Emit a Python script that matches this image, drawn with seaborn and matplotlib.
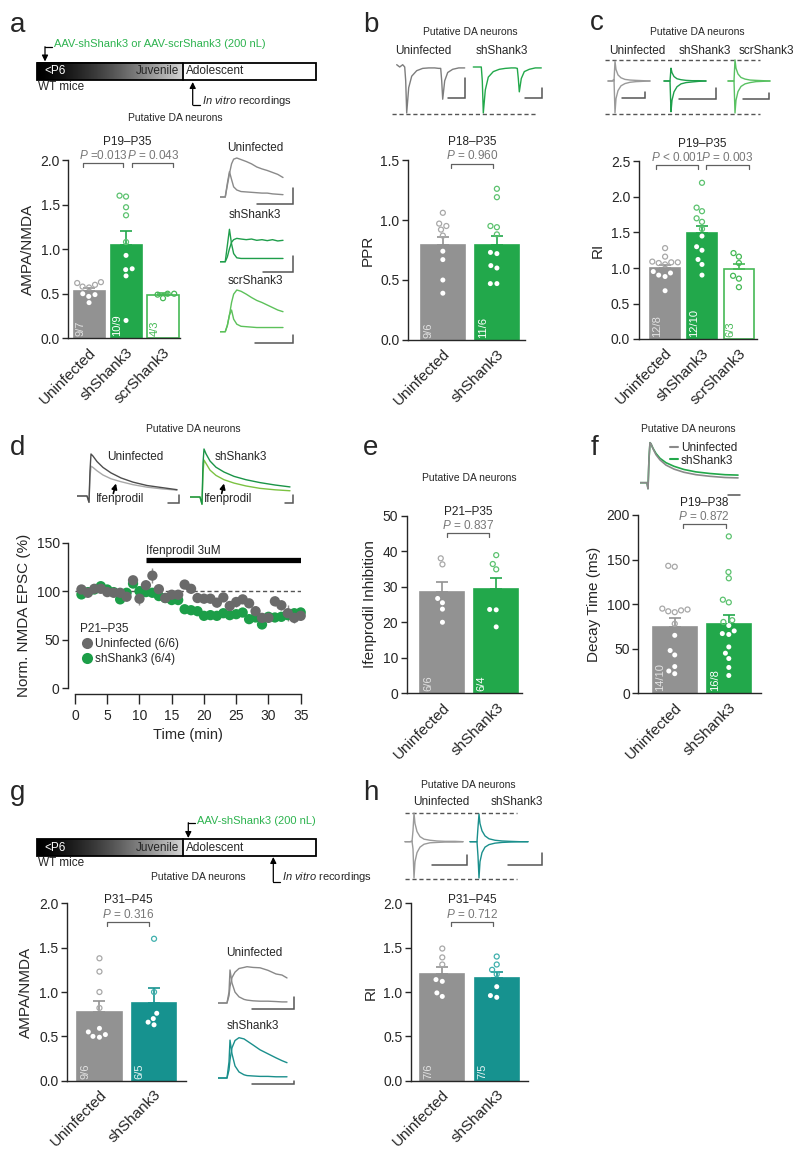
import numpy as np
import pandas as pd
import matplotlib
matplotlib.use("Agg")
import matplotlib.pyplot as plt
from matplotlib.patches import Rectangle
from matplotlib.lines import Line2D
import seaborn as sns

# =========================
# DATA
# =========================

# panel a : AMPA/NMDA, P19-P35
a_groups = ["Uninfected", "shShank3", "scrShank3"]
a_means = [0.53, 1.05, 0.49]
a_sems = [0.03, 0.15, 0.02]
a_uninf = [0.62, 0.58, 0.57, 0.60, 0.63, 0.50, 0.49, 0.47, 0.40]
a_sh = [1.60, 1.59, 1.47, 1.38, 1.08, 0.93, 0.78, 0.77, 0.70, 0.20]
a_scr = [0.50, 0.49, 0.50, 0.45]
a_n = ["9/7", "10/9", "4/3"]

# panel b : PPR, P18-P35
b_groups = ["Uninfected", "shShank3"]
b_means = [0.79, 0.79]
b_sems = [0.07, 0.08]
b_uninf = [1.06, 0.97, 0.95, 0.92, 0.87, 0.74, 0.67, 0.50, 0.39]
b_sh = [1.26, 1.19, 0.95, 0.94, 0.88, 0.73, 0.72, 0.62, 0.60, 0.47, 0.47]
b_n = ["9/6", "11/6"]

# panel c : RI, P19-P35
c_groups = ["Uninfected", "shShank3", "scrShank3"]
c_means = [1.00, 1.49, 0.99]
c_sems = [0.04, 0.10, 0.07]
c_uninf = [1.28, 1.16, 1.09, 1.08, 1.05, 1.07, 1.08, 0.95, 0.93, 0.88, 0.90, 0.68]
c_sh = [2.20, 1.85, 1.80, 1.70, 1.65, 1.55, 1.45, 1.30, 1.25, 1.12, 1.05, 0.90]
c_scr = [1.21, 1.16, 1.07, 0.89, 0.85, 0.73]
c_n = ["12/8", "12/10", "6/3"]

# panel d : normalised NMDA EPSC over time, P21-P35
d_time = list(range(1, 36))
d_uninf = [101.7, 98.3, 102.4, 102.4, 99.0, 98.3, 98.3, 94.2, 111.2, 92.2,
           106.1, 116.0, 102.0, 92.9, 96.3, 96.3, 106.8, 102.4, 92.9, 92.2,
           92.2, 88.1, 93.5, 84.7, 88.8, 91.5, 87.4, 79.3, 72.4, 72.4,
           89.5, 85.4, 77.2, 72.4, 74.5]
d_uninf_sem = [3, 3, 3, 3, 3, 3, 3, 3, 4, 6, 5, 8, 4, 3, 4, 5, 5, 4, 4, 4,
               4, 4, 4, 5, 5, 4, 4, 5, 5, 4, 5, 5, 8, 5, 4]
d_sh = [96.6, 99.0, 101.7, 105.1, 101.7, 99.0, 91.5, 98.3, 107.8, 100.0,
        99.0, 98.3, 94.9, 92.9, 90.8, 90.8, 81.3, 80.3, 79.3, 74.5,
        75.2, 74.5, 77.2, 75.2, 76.2, 77.9, 71.1, 72.8, 65.6, 73.5,
        72.8, 73.5, 75.2, 77.2, 78.0]
d_sh_sem = [3, 3, 3, 3, 3, 3, 3, 3, 3, 3, 4, 3, 3, 3, 3, 3, 4, 3, 3, 3,
            3, 3, 3, 3, 3, 3, 3, 3, 3, 3, 3, 3, 3, 3, 3]
d_ifen_start, d_ifen_end = 11, 35

# panel e : Ifenprodil inhibition, P21-P35
e_groups = ["Uninfected", "shShank3"]
e_means = [28.5, 29.4]
e_sems = [2.8, 3.2]
e_uninf = [38.0, 36.3, 26.7, 25.5, 23.7, 20.0]
e_sh = [38.9, 36.4, 34.9, 23.6, 23.5, 18.7]
e_n = ["6/6", "6/4"]

# panel f : decay time, P19-P38
f_groups = ["Uninfected", "shShank3"]
f_means = [74.7, 77.7]
f_sems = [10.1, 10.1]
f_uninf = [143, 142, 95, 94, 93, 92, 91, 78, 65, 48, 43, 30, 25, 22]
f_sh = [176, 136, 129, 105, 102, 82, 80, 76, 70, 67, 66, 52, 45, 39, 29, 20]
f_n = ["14/10", "16/8"]

# panel g : AMPA/NMDA, P31-P45
g_groups = ["Uninfected", "shShank3"]
g_means = [0.78, 0.88]
g_sems = [0.12, 0.16]
g_uninf = [1.38, 1.23, 1.00, 0.82, 0.59, 0.55, 0.52, 0.50, 0.49]
g_sh = [1.60, 1.00, 0.76, 0.70, 0.66, 0.63]
g_n = ["9/6", "6/5"]

# panel h : RI, P31-P45
h_groups = ["Uninfected", "shShank3"]
h_means = [1.20, 1.16]
h_sems = [0.08, 0.07]
h_uninf = [1.49, 1.39, 1.31, 1.14, 1.12, 0.99, 0.95]
h_sh = [1.40, 1.31, 1.25, 1.20, 1.06, 0.96, 0.94]
h_n = ["7/6", "7/5"]

# example traces (normalised amplitude)
t_a = [0, 5, 7, 9, 11, 13, 16, 20, 25, 30, 35, 40, 45, 50, 55, 60]
a_tr_uninf_slow = [0, 0, 0.3, 0.6, 0.85, 0.97, 1.0, 0.96, 0.91, 0.85, 0.77, 0.72, 0.68, 0.63, 0.58, 0.5]
a_tr_uninf_fast = [0, 0, 0.35, 0.65, 0.45, 0.26, 0.18, 0.14, 0.13, 0.12, 0.11, 0.1, 0.1, 0.08, 0.07, 0.06]
a_tr_sh_slow = [0, 0, 0.15, 0.4, 0.6, 0.68, 0.72, 0.7, 0.68, 0.7, 0.66, 0.68, 0.65, 0.68, 0.64, 0.66]
a_tr_sh_fast = [0, 0, 0.5, 1.0, 0.55, 0.25, 0.12, 0.1, 0.1, 0.1, 0.1, 0.1, 0.1, 0.1, 0.1, 0.1]
a_tr_scr_slow = [0, 0, 0.15, 0.4, 0.7, 0.9, 1.0, 0.97, 0.9, 0.82, 0.75, 0.7, 0.64, 0.58, 0.52, 0.48]
a_tr_scr_fast = [0, 0, 0.15, 0.4, 0.52, 0.3, 0.18, 0.13, 0.12, 0.11, 0.1, 0.1, 0.1, 0.1, 0.1, 0.1]

t_b = [0, 3, 6, 8, 9, 10, 12, 15, 20, 26, 32, 38, 42, 44, 45, 46, 48, 51, 56, 62, 68]
b_tr_uninf = [0.05, 0.0, 0.05, 0.0, -0.3, -1.0, -0.45, -0.2, -0.08, -0.03, -0.02, -0.02,
              -0.03, -0.03, -0.3, -0.7, -0.3, -0.12, -0.05, -0.02, -0.02]
b_tr_sh = [0.0, 0.0, 0.0, 0.0, -0.3, -1.0, -0.5, -0.22, -0.1, -0.05, -0.03, -0.02,
           -0.02, -0.03, -0.25, -0.54, -0.25, -0.1, -0.05, -0.02, -0.02]

t_c = [0, 4, 6, 7, 8, 10, 13, 17, 22, 28, 35, 42]
c_tr_uninf_neg = [0, 0, 0.05, -1.0, -0.55, -0.3, -0.15, -0.08, -0.04, -0.02, -0.01, 0]
c_tr_uninf_pos = [0, 0, 0, 0.62, 0.36, 0.19, 0.1, 0.05, 0.03, 0.02, 0.01, 0]
c_tr_sh_neg = [0, 0, 0, -0.96, -0.6, -0.34, -0.18, -0.09, -0.05, -0.03, -0.01, 0]
c_tr_sh_pos = [0, 0, 0, 0.4, 0.26, 0.14, 0.07, 0.04, 0.02, 0.01, 0.01, 0]
c_tr_scr_neg = [0, 0, 0, -1.0, -0.6, -0.33, -0.17, -0.09, -0.05, -0.02, -0.01, 0]
c_tr_scr_pos = [0, 0, 0, 0.66, 0.4, 0.22, 0.11, 0.06, 0.03, 0.02, 0.01, 0]

t_d = [0, 10, 12, 13, 14, 16, 20, 26, 34, 44, 56, 70, 85, 100]
d_tr_uninf_ctrl = [0, 0, -0.15, 0.6, 1.0, 0.95, 0.82, 0.68, 0.55, 0.43, 0.33, 0.25, 0.2, 0.15]
d_tr_uninf_ifen = [0, 0, -0.15, 0.45, 0.71, 0.68, 0.6, 0.5, 0.41, 0.34, 0.27, 0.21, 0.17, 0.14]
d_tr_sh_ctrl = [0, 0, -0.15, 0.7, 1.0, 0.9, 0.75, 0.62, 0.52, 0.43, 0.36, 0.3, 0.25, 0.21]
d_tr_sh_ifen = [0, 0, -0.15, 0.5, 0.77, 0.7, 0.56, 0.45, 0.36, 0.29, 0.23, 0.18, 0.15, 0.13]

t_f = [0, 7, 8, 9, 10, 11, 13, 16, 20, 26, 34, 44, 56, 70, 85, 98]
f_tr_uninf = [0, 0, -0.15, 0.6, 1.0, 0.97, 0.85, 0.7, 0.57, 0.44, 0.34, 0.26, 0.2, 0.16, 0.13, 0.12]
f_tr_sh = [0, 0, -0.15, 0.6, 1.0, 0.97, 0.86, 0.73, 0.61, 0.5, 0.41, 0.33, 0.27, 0.23, 0.2, 0.19]

t_g = [0, 6, 9, 11, 12, 14, 17, 21, 26, 29, 35, 42, 50, 58, 64, 69]
g_tr_uninf_slow = [0, 0, 0, 0.2, 0.45, 0.7, 0.85, 0.95, 0.98, 1.0, 0.98, 0.97, 0.9, 0.8, 0.77, 0.69]
g_tr_uninf_fast = [0, 0, 0, 0.3, 0.91, 0.55, 0.3, 0.17, 0.1, 0.08, 0.06, 0.05, 0.05, 0.04, 0.03, 0.03]
g_tr_sh_slow = [0, 0, 0, 0.2, 0.45, 0.75, 0.93, 1.0, 0.97, 0.92, 0.82, 0.7, 0.6, 0.5, 0.43, 0.38]
g_tr_sh_fast = [0, 0, 0, 0.4, 0.94, 0.6, 0.3, 0.15, 0.08, 0.06, 0.05, 0.04, 0.04, 0.03, 0.03, 0.03]

t_h = [0, 5, 7, 8, 9, 10, 12, 15, 19, 25, 32, 40, 50, 58]
h_tr_uninf_neg = [0, 0, 0.02, -0.2, -1.0, -0.55, -0.3, -0.15, -0.07, -0.03, -0.02, -0.01, -0.01, 0]
h_tr_uninf_pos = [0, 0, 0, 0.3, 0.79, 0.5, 0.28, 0.14, 0.07, 0.04, 0.02, 0.01, 0.01, 0]
h_tr_sh_neg = [0, 0, 0, -0.4, -1.0, -0.55, -0.3, -0.15, -0.08, -0.04, -0.02, -0.01, 0, 0]
h_tr_sh_pos = [0, 0, 0, 0.4, 0.76, 0.5, 0.3, 0.16, 0.08, 0.04, 0.02, 0.01, 0, 0]

# =========================
# STYLE
# =========================

sns.set_theme(style="ticks")
plt.rcParams['font.family'] = ['Liberation Sans', 'DejaVu Sans']
plt.rcParams['mathtext.fontset'] = 'custom'
plt.rcParams['mathtext.rm'] = 'Liberation Sans'
plt.rcParams['mathtext.it'] = 'Liberation Sans:italic'
plt.rcParams['axes.linewidth'] = 1.0

GRAY = dict(face='#929292', edge='#929292', open='#a8a8a8', ntext='#e2e2e2', all_open=False)
GREEN = dict(face='#22a84b', edge='#22a84b', open='#5cc26f', ntext='white', all_open=False)
SCR = dict(face='white', edge='#45b955', open='#45b955', ntext='#45b955', all_open=True)
TEAL = dict(face='#16928f', edge='#16928f', open='#3fb0ad', ntext='#e6f4f4', all_open=False)

W, H = 800, 1151
fig = plt.figure(figsize=(8, 11.51), dpi=100)


def rect(x0, y0, x1, y1):
    return [x0 / W, 1 - y1 / H, (x1 - x0) / W, (y1 - y0) / H]


# overlay in pixel coordinates for labels, timelines, arrows
ov = fig.add_axes([0, 0, 1, 1])
ov.set_xlim(0, W)
ov.set_ylim(H, 0)
ov.axis('off')


def T(x, y, s, **kw):
    kw.setdefault('fontsize', 8)
    kw.setdefault('ha', 'center')
    kw.setdefault('va', 'center')
    ov.text(x, y, s, **kw)


# =========================
# HELPERS
# =========================

def bar_panel(box, xlim, bw, groups, means, sems, points, looks, ymax, ystep,
              ylabel, nlabels, fmt="{:.1f}"):
    ax = fig.add_axes(rect(*box))
    ax.patch.set_alpha(0)
    df = pd.DataFrame({'group': groups, 'mean': means})
    sns.barplot(data=df, x='group', y='mean', order=groups, ax=ax, width=bw,
                errorbar=None, color='white', saturation=1, zorder=1)
    for patch, lk in zip(ax.patches, looks):
        patch.set_facecolor(lk['face'])
        patch.set_edgecolor(lk['edge'])
        patch.set_linewidth(1.2)
    for i, (m, s, lk) in enumerate(zip(means, sems, looks)):
        ax.errorbar(i, m, yerr=[[0], [s]], color=lk['edge'], capsize=4,
                    capthick=1.2, lw=1.2, zorder=2)
    long = pd.DataFrame({
        'group': np.repeat(groups, [len(p) for p in points]),
        'value': np.concatenate(points),
    })
    n0 = len(ax.collections)
    sns.swarmplot(data=long, x='group', y='value', order=groups, ax=ax,
                  size=3.6, color='white', linewidth=0.9, zorder=3, warn_thresh=1)
    for coll in ax.collections[n0:]:
        offs = coll.get_offsets()
        if len(offs) == 0:
            continue
        gi = int(round(offs[0, 0]))
        lk = looks[gi]
        faces, edges = [], []
        for y in offs[:, 1]:
            if lk['all_open'] or y > means[gi]:
                faces.append((1, 1, 1, 0))
                edges.append(matplotlib.colors.to_rgba(lk['open']))
            else:
                faces.append((1, 1, 1, 1))
                edges.append((1, 1, 1, 0))
        coll.set_facecolor(faces)
        coll.set_edgecolor(edges)
    for i, (lab, lk) in enumerate(zip(nlabels, looks)):
        ax.text(i - bw / 2 + 0.05, ymax * 0.012, lab, rotation=90, ha='left',
                va='bottom', fontsize=8, color=lk['ntext'], zorder=4)
    ax.set_xlim(*xlim)
    ax.set_ylim(0, ymax)
    ticks = np.arange(0, ymax + ystep / 2, ystep)
    ax.set_yticks(ticks)
    ax.set_yticklabels([fmt.format(t) for t in ticks])
    ax.set_xticks(range(len(groups)))
    ax.set_xticklabels(groups, rotation=45, ha='right', rotation_mode='anchor',
                       fontsize=11)
    ax.set_xlabel('')
    ax.set_ylabel(ylabel, fontsize=11)
    ax.tick_params(axis='y', length=4, width=1, labelsize=10, pad=2)
    ax.tick_params(axis='x', length=0, pad=5)
    sns.despine(ax=ax)
    return ax


def bracket(ax, x1, x2, y, text, ymax):
    leg = ymax * 4 / 178
    ax.plot([x1, x1, x2, x2], [y - leg, y, y, y - leg], color='#606060', lw=0.9,
            clip_on=False)
    ax.annotate(text, xy=((x1 + x2) / 2, y), xytext=(0, 5.5),
                textcoords='offset points', ha='center', va='center',
                fontsize=8.5, color='#777777', annotation_clip=False)


def period(ax, x, y, text):
    ax.annotate(text, xy=(x, y), xytext=(0, 15.5), textcoords='offset points',
                ha='center', va='center', fontsize=8.5, color='#222222',
                annotation_clip=False)


def trace_ax(x0, x1, t1, base, unit, ylo, yhi):
    top = base - yhi * unit
    bottom = base - ylo * unit
    a = fig.add_axes(rect(x0, top, x1, bottom))
    a.set_xlim(0, t1)
    a.set_ylim(ylo, yhi)
    a.axis('off')
    return a


def scalebar(a, x_end, y_end, dx, dy, color='#555555'):
    a.plot([x_end - dx, x_end, x_end], [y_end, y_end, y_end + dy], color=color,
           lw=1.1, clip_on=False, solid_joinstyle='miter')


def timeline(y0, y1):
    grad = np.linspace(0, 1, 256)[None, :] ** 1.4
    ov.imshow(grad, extent=(36.7, 182.7, y1, y0), cmap='gray', vmin=0,
              vmax=1.2, aspect='auto', zorder=1)
    ov.add_patch(Rectangle((36.7, y0), 316 - 36.7, y1 - y0, fill=False,
                           lw=1.3, ec='black', zorder=2))
    ov.plot([182.7, 182.7], [y0, y1], color='black', lw=1.3, zorder=2)
    ym = (y0 + y1) / 2
    T(44, ym, "<P6", ha='left', color='white', fontsize=8.5, zorder=3)
    T(179, ym, "Juvenile", ha='right', fontsize=8.5, zorder=3)
    T(185.5, ym, "Adolescent", ha='left', fontsize=8.5, zorder=3)
    T(38.5, y1 + 7, "WT mice", ha='left', fontsize=8.5)


def arrow_down(x, ytop, ybot, hook):
    ov.plot([x, x + hook], [ytop, ytop], color='black', lw=0.9)
    ov.annotate('', xy=(x, ybot), xytext=(x, ytop),
                arrowprops=dict(arrowstyle='-|>', color='black', lw=0.9,
                                mutation_scale=9, shrinkA=0, shrinkB=0))


# =========================
# PANEL A
# =========================

timeline(62.7, 80)
arrow_down(45, 46.7, 61.5, 7)
T(54.3, 44.3, "AAV-shShank3 or AAV-scrShank3 (200 nL)", ha='left',
  color='#2db34f', fontsize=8)
arrow_down(192.7, 105, 82, 7)
ov.lines[-1].set_xdata([192.7, 199.7])
T(201.7, 101, r"$\it{In\ vitro}$ recordings", ha='left', fontsize=8)
T(175, 117.7, "Putative DA neurons", fontsize=7.5)

ax_a = bar_panel((68, 160, 180, 338.3), (-0.57, 2.46), 0.84, a_groups, a_means,
                 a_sems, [a_uninf, a_sh, a_scr], [GRAY, GREEN, SCR], 2.0, 0.5,
                 "AMPA/NMDA", a_n)
bracket(ax_a, -0.17, 0.93, 1.963, r"$\it{P}$ =0.013", 2.0)
bracket(ax_a, 1.17, 2.27, 1.963, r"$\it{P}$ = 0.043", 2.0)
period(ax_a, 1.02, 1.963, "P19\u2013P35")

tr = trace_ax(220, 295.6, 72, 197, 39, -0.25, 1.1)
tr.plot(t_a, a_tr_uninf_slow, color='#8a8a8a', lw=1)
tr.plot(t_a, a_tr_uninf_fast, color='#8a8a8a', lw=1)
scalebar(tr, 69.5, -0.18, 34.5, 0.41)
tr = trace_ax(220, 295.6, 72, 261.7, 32.4, -0.4, 1.1)
tr.plot(t_a, a_tr_sh_slow, color='#1f9e4b', lw=1)
tr.plot(t_a, a_tr_sh_fast, color='#1f9e4b', lw=1)
scalebar(tr, 69.5, -0.32, 28.5, 0.5)
tr = trace_ax(220, 295.6, 72, 331.7, 41.7, -0.35, 1.08)
tr.plot(t_a, a_tr_scr_slow, color='#5cc15a', lw=1)
tr.plot(t_a, a_tr_scr_fast, color='#5cc15a', lw=1)
scalebar(tr, 69.5, -0.27, 36.5, 0.19)
T(255, 148, "Uninfected", fontsize=8.5)
T(255, 215, "shShank3", fontsize=8.5)
T(255, 281, "scrShank3", fontsize=8.5)

# =========================
# PANEL B
# =========================

T(470, 31.7, "Putative DA neurons", fontsize=7.5)
T(423, 51, "Uninfected", fontsize=8.5)
T(502, 51, "shShank3", fontsize=8.5)
tr = trace_ax(390, 545, 155, 67, 46, -1.1, 0.3)
tr.plot(np.array(t_b) + 6.7, b_tr_uninf, color='#7d7d7d', lw=1)
tr.plot(np.array(t_b) + 83.3, b_tr_sh, color='#22a84a', lw=1)
tr.plot([2, 147], [-1.02, -1.02], ls=(0, (3, 2)), color='#555555', lw=1)
scalebar(tr, 75, -0.67, 17, 0.43)
scalebar(tr, 152, -0.67, 17, 0.21)

ax_b = bar_panel((407.7, 160, 525, 340), (-0.65, 1.52), 0.81, b_groups, b_means,
                 b_sems, [b_uninf, b_sh], [GRAY, GREEN], 1.5, 0.5, "PPR", b_n)
bracket(ax_b, 0.15, 0.92, 1.47, r"$\it{P}$ = 0.960", 1.5)
period(ax_b, 0.535, 1.47, "P18\u2013P35")

# =========================
# PANEL C
# =========================

T(697, 32.3, "Putative DA neurons", fontsize=7.5)
T(637, 51, "Uninfected", fontsize=8.5)
T(705, 51, "shShank3", fontsize=8.5)
T(766, 51, "scrShank3", fontsize=8.5)
tr = trace_ax(600, 775, 175, 81, 32, -1.1, 0.75)
tr.plot([5, 160], [0.66, 0.66], ls=(0, (3, 2)), color='#555555', lw=1)
tr.plot([5, 160], [-1.03, -1.03], ls=(0, (3, 2)), color='#555555', lw=1)
for off, neg, pos, col in [(8, c_tr_uninf_neg, c_tr_uninf_pos, '#9a9a9a'),
                           (64, c_tr_sh_neg, c_tr_sh_pos, '#1e9f4b'),
                           (128, c_tr_scr_neg, c_tr_scr_pos, '#59c162')]:
    tr.plot(np.array(t_c) + off, neg, color=col, lw=1)
    tr.plot(np.array(t_c) + off, pos, color=col, lw=1)
scalebar(tr, 45, -0.53, 23, 0.19)
scalebar(tr, 116, -0.56, 37, 0.34)
scalebar(tr, 169, -0.56, 26, 0.18)

ax_c = bar_panel((638.5, 161.5, 757, 339), (-0.72, 2.49), 0.81, c_groups, c_means,
                 c_sems, [c_uninf, c_sh, c_scr], [GRAY, GREEN, SCR], 2.5, 0.5,
                 "RI", c_n)
bracket(ax_c, -0.24, 0.89, 2.45, r"$\it{P}$ < 0.001", 2.5)
bracket(ax_c, 1.11, 2.26, 2.45, r"$\it{P}$ = 0.003", 2.5)
period(ax_c, 1.01, 2.45, "P19\u2013P35")

# =========================
# PANEL D
# =========================

T(193, 429.3, "Putative DA neurons", fontsize=7.5)
tr = trace_ax(77, 182, 105, 496, 42, -0.25, 1.1)
tr.plot(t_d, d_tr_uninf_ifen, color='#a8a8a8', lw=1)
tr.plot(t_d, d_tr_uninf_ctrl, color='#4d4d4d', lw=1)
scalebar(tr, 102, -0.17, 11, 0.19)
tr = trace_ax(190, 295, 105, 497, 48, -0.25, 1.1)
tr.plot(t_d, d_tr_sh_ifen, color='#7cc242', lw=1)
tr.plot(t_d, d_tr_sh_ctrl, color='#1a9447', lw=1)
scalebar(tr, 103, -0.125, 8, 0.165)
T(135, 456.7, "Uninfected", fontsize=8.5)
T(120, 499.3, "Ifenprodil", fontsize=8.5)
T(241, 456.7, "shShank3", fontsize=8.5)
T(228, 498.7, "Ifenprodil", fontsize=8.5)
for xt, xh in [(113.3, 116), (221.7, 224)]:
    ov.annotate('', xy=(xh, 483.5), xytext=(xt, 493.5),
                arrowprops=dict(arrowstyle='-|>', color='black', lw=1.2,
                                mutation_scale=8, shrinkA=0, shrinkB=0))

ax_d = fig.add_axes(rect(75, 542.7, 300.7, 688))
ax_d.patch.set_alpha(0)
df_d = pd.DataFrame({
    'time': d_time + d_time,
    'epsc': d_sh + d_uninf,
    'group': ['shShank3'] * len(d_time) + ['Uninfected'] * len(d_time),
})
ax_d.axhline(100, ls=(0, (3, 2)), color='#555555', lw=1, zorder=1)
ax_d.errorbar(d_time, d_sh, yerr=d_sh_sem, fmt='none', ecolor='#7cc58b',
              elinewidth=1, zorder=2)
ax_d.errorbar(d_time, d_uninf, yerr=d_uninf_sem, fmt='none', ecolor='#8e8e8e',
              elinewidth=1, zorder=2)
sns.scatterplot(data=df_d, x='time', y='epsc', hue='group',
                palette={'Uninfected': '#6a6a6a', 'shShank3': '#1c9e48'},
                s=55, edgecolor='none', linewidth=0, legend=False, ax=ax_d,
                zorder=3, clip_on=False)
ax_d.plot([d_ifen_start, d_ifen_end], [132.3, 132.3], color='black', lw=3.8,
          solid_capstyle='butt')
ax_d.text(d_ifen_start, 141.5, "Ifenprodil 3uM", ha='left', va='center',
          fontsize=8.5)
ax_d.set_xlim(0, 35)
ax_d.set_ylim(0, 150)
ax_d.set_xticks(range(0, 36, 5))
ax_d.set_yticks([0, 50, 100, 150])
ax_d.set_xlabel("Time (min)", fontsize=10.5, labelpad=4)
ax_d.set_ylabel("Norm. NMDA EPSC (%)", fontsize=11)
ax_d.tick_params(axis='both', length=4, width=1, labelsize=10, pad=2)
ax_d.tick_params(axis='x', length=7, pad=4)
sns.despine(ax=ax_d, offset={'left': 5, 'bottom': 4})
handles = [Line2D([], [], marker='o', ls='', ms=8, mfc='#6a6a6a', mec='none'),
           Line2D([], [], marker='o', ls='', ms=8, mfc='#1c9e48', mec='none')]
leg = ax_d.legend(handles, ["Uninfected (6/6)", "shShank3 (6/4)"],
                  title="P21\u2013P35", loc='upper left',
                  bbox_to_anchor=(80 / W, 1 - 623 / H),
                  bbox_transform=fig.transFigure, frameon=False, fontsize=8.5,
                  title_fontsize=8.5, handletextpad=0.1, borderaxespad=0,
                  borderpad=0, labelspacing=0.25, handlelength=1.2)
leg._legend_box.align = 'left'

# =========================
# PANEL E
# =========================

T(469, 478.3, "Putative DA neurons", fontsize=7.5)
ax_e = bar_panel((406.7, 515.7, 522, 693.3), (-0.665, 1.48), 0.82, e_groups, e_means,
                 e_sems, [e_uninf, e_sh], [GRAY, GREEN], 50, 10,
                 "Ifenprodil Inhibition", e_n, fmt="{:.0f}")
bracket(ax_e, 0.08, 0.87, 45.0, r"$\it{P}$ = 0.837", 50)
period(ax_e, 0.475, 45.0, "P21\u2013P35")

# =========================
# PANEL F
# =========================

T(688, 429.3, "Putative DA neurons", fontsize=7.5)
tr = trace_ax(640, 742, 102, 482.7, 40, -0.35, 1.05)
tr.plot(t_f, f_tr_sh, color='#22a84a', lw=1.2)
tr.plot(t_f, f_tr_uninf, color='#8a8a8a', lw=1.2)
scalebar(tr, 100, -0.31, 12, 0)
fleg = tr.legend([Line2D([], [], color='#8a8a8a', lw=1.5),
                  Line2D([], [], color='#22a84a', lw=1.5)],
                 ["Uninfected", "shShank3"], loc='upper left',
                 bbox_to_anchor=(670 / W, 1 - 442 / H),
                 bbox_transform=fig.transFigure, frameon=False, fontsize=8.5,
                 handlelength=0.7, handletextpad=0.2, borderaxespad=0,
                 borderpad=0, labelspacing=0.05)

ax_f = bar_panel((638.3, 515, 760.7, 693.3), (-0.674, 1.59), 0.81, f_groups, f_means,
                 f_sems, [f_uninf, f_sh], [GRAY, GREEN], 200, 50,
                 "Decay Time (ms)", f_n, fmt="{:.0f}")
bracket(ax_f, 0.15, 0.94, 189.5, r"$\it{P}$ = 0.872", 200)
period(ax_f, 0.545, 189.5, "P19\u2013P38")

# =========================
# PANEL G
# =========================

timeline(839.3, 855.7)
arrow_down(188.3, 822.7, 838, 7)
T(196.7, 820.7, "AAV-shShank3 (200 nL)", ha='left', color='#2db34f', fontsize=8)
arrow_down(273.3, 881.7, 857, 7)
T(281.7, 877.3, r"$\it{In\ vitro}$ recordings", ha='left', fontsize=8)
T(198.3, 877.3, "Putative DA neurons", fontsize=7.5)

ax_g = bar_panel((66.7, 903.3, 185.7, 1080.7), (-0.6, 1.58), 0.81, g_groups, g_means,
                 g_sems, [g_uninf, g_sh], [GRAY, TEAL], 2.0, 0.5, "AMPA/NMDA", g_n)
bracket(ax_g, 0.13, 0.91, 1.79, r"$\it{P}$ = 0.316", 2.0)
period(ax_g, 0.52, 1.79, "P31\u2013P45")

tr = trace_ax(218, 297, 79, 1003, 36.3, -0.3, 1.1)
tr.plot(t_g, g_tr_uninf_slow, color='#888888', lw=1)
tr.plot(t_g, g_tr_uninf_fast, color='#888888', lw=1)
scalebar(tr, 76, -0.17, 42, 0.34)
tr = trace_ax(218, 297, 79, 1078, 40.3, -0.25, 1.1)
tr.plot(t_g, g_tr_sh_slow, color='#1a8f8c', lw=1)
tr.plot(t_g, g_tr_sh_fast, color='#1a8f8c', lw=1)
scalebar(tr, 76, -0.15, 42, 0.08)
T(254, 953.3, "Uninfected", fontsize=8.5)
T(253, 1026, "shShank3", fontsize=8.5)

# =========================
# PANEL H
# =========================

T(468.3, 785, "Putative DA neurons", fontsize=7.5)
T(441.7, 802.3, "Uninfected", fontsize=8.5)
T(516.7, 802.3, "shShank3", fontsize=8.5)
tr = trace_ax(400, 545, 145, 841.7, 36.3, -1.1, 0.9)
tr.plot([5, 116.7], [0.8, 0.8], ls=(0, (3, 2)), color='#555555', lw=1)
tr.plot([5, 116.7], [-1.035, -1.035], ls=(0, (3, 2)), color='#555555', lw=1)
tr.plot(np.array(t_h) + 5, h_tr_uninf_neg, color='#9a9a9a', lw=1)
tr.plot(np.array(t_h) + 5, h_tr_uninf_pos, color='#9a9a9a', lw=1)
tr.plot(np.array(t_h) + 70, h_tr_sh_neg, color='#1a8f8c', lw=1)
tr.plot(np.array(t_h) + 70, h_tr_sh_pos, color='#1a8f8c', lw=1)
scalebar(tr, 67.3, -0.64, 35.6, 0.27)
scalebar(tr, 141.7, -0.64, 33.4, 0.34)

ax_h = bar_panel((410.7, 903.3, 528.3, 1080.7), (-0.58, 1.58), 0.81, h_groups, h_means,
                 h_sems, [h_uninf, h_sh], [GRAY, TEAL], 2.0, 0.5, "RI", h_n)
bracket(ax_h, 0.16, 0.94, 1.79, r"$\it{P}$ = 0.712", 2.0)
period(ax_h, 0.55, 1.79, "P31\u2013P45")

# =========================
# PANEL LETTERS
# =========================

for lab, x, y in [('a', 10, 31.5), ('b', 363, 31.5), ('c', 590, 30),
                  ('d', 10, 455), ('e', 363, 455), ('f', 591, 455),
                  ('g', 10, 800), ('h', 363, 800)]:
    T(x, y, lab, ha='left', va='baseline', fontsize=20)

fig.savefig("out.png", dpi=100)
